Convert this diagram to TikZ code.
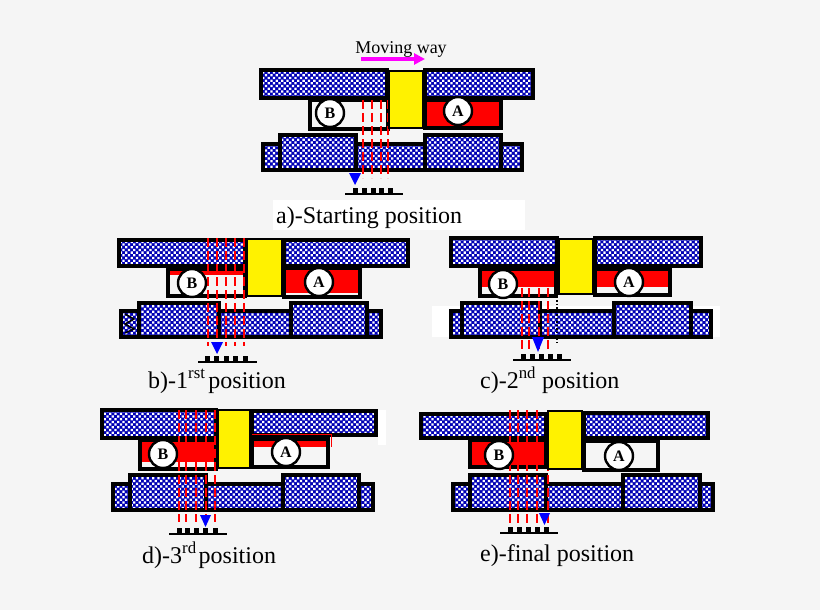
\documentclass[tikz,border=0pt]{standalone}
\usepackage{fontspec}
\setmainfont{Liberation Serif}
\usetikzlibrary{patterns.meta,arrows.meta}
\definecolor{paper}{HTML}{F5F5F5}
\definecolor{hatchblue}{HTML}{0000B4}
\definecolor{waypink}{RGB}{255,0,255}
\tikzset{
  block/.style={draw=black,line width=4pt,preaction={fill=hatchblue},preaction={pattern={Dots[distance=3.8pt,angle=45,radius=1.6pt]},pattern color=white}},
  slot/.style={draw=black,line width=4pt},
  slider/.style={draw=black,line width=1.5pt,fill=yellow},
  charge/.style={fill=red},
  beam/.style={draw=red,line width=2.2pt,dash pattern=on 9pt off 4pt},
  drop/.style={fill=blue},
  disc/.style={circle,draw=black,line width=2.4pt,fill=white,minimum size=28pt,inner sep=0pt,font=\fontsize{16}{16}\selectfont\bfseries},
  label/.style={anchor=base west,inner sep=0pt,font=\fontsize{24}{24}\selectfont},
}
\begin{document}
\begin{tikzpicture}[x=1pt,y=-1pt]
    \useasboundingbox[fill=paper] (0,0) rectangle (820,610);
    % a) starting position
    \fill[white] (273,200) rectangle (525,230);
    \node[anchor=base,inner sep=0pt,font=\fontsize{18}{18}\selectfont] (moving) at (401,54) {Moving way};
    \coordinate (way start) at (361,59);
    \coordinate (way end) at (425,59);
    \draw[-{Triangle[length=11pt,width=11pt]},waypink,line width=3.5pt] (way start) -- (way end);
    \draw[slot] (310,100) rectangle (388,129);
    \fill[charge] (425,100) rectangle (501,128);
    \draw[slot] (425,100) rectangle (501,128);
    \draw[block] (263,144) rectangle (522,170);
    \draw[block] (280,135) rectangle (356,170);
    \draw[block] (425,135) rectangle (501,170);
    \draw[block] (261,70) rectangle (387,98);
    \draw[block] (425,70) rectangle (533,98);
    \foreach \x in {363,372,381,388}
      \draw[beam] (\x,100) -- (\x,178);
    \draw[slider] (389,71) rectangle (423,128);
    \node[disc] (B a) at (330,113) {B};
    \node[disc] (A a) at (458,111) {A};
    \fill[drop] (349,173) -- (361,173) -- (355,185) -- cycle;
    \draw[line width=1.5pt] (345,194) -- (403,194);
    \foreach \x in {353,362,371,379,388}
      \fill (\x,188) rectangle ++(5,6);
    \node[label] (cap a) at (276,223) {a)-Starting position};
    % b) 1rst position
    \fill[charge] (168,269) rectangle (245,275);
    \draw[slot] (168,269) rectangle (245,296);
    \fill[charge] (284,268) rectangle (360,293);
    \draw[slot] (284,268) rectangle (360,297);
    \draw[block] (121,311) rectangle (381,337);
    \draw[block] (139,303) rectangle (219,337);
    \draw[block] (291,303) rectangle (367,337);
    \draw[block] (119,240) rectangle (245,266);
    \draw[block] (284,240) rectangle (408,266);
    \draw[line width=1.5pt] (125,314) -- (134,319) -- (125,324) -- (134,329) -- (125,333);
    \foreach \x in {208,217,226,235,244}
      \draw[beam] (\x,238) -- (\x,346);
    \draw[slider] (247,239) rectangle (282,296);
    \node[disc] (B b) at (192,283) {B};
    \node[disc] (A b) at (319,282) {A};
    \fill[drop] (211,342) -- (223,342) -- (217,354) -- cycle;
    \draw[line width=1.5pt] (198,362) -- (257,362);
    \foreach \x in {205,214,224,233,243}
      \fill (\x,356) rectangle ++(5,6);
    \node[label] (cap b) at (148,388) {b)-1\textsuperscript{rst}\hspace{-3pt} position};
    % c) 2nd position
    \fill[white] (432,306) rectangle (720,337);
    \fill[charge] (480,269) rectangle (556,287);
    \draw[slot] (480,269) rectangle (556,296);
    \fill[charge] (595,269) rectangle (670,287);
    \draw[slot] (595,269) rectangle (670,295);
    \draw[block] (451,311) rectangle (711,337);
    \draw[block] (462,303) rectangle (540,337);
    \draw[block] (614,303) rectangle (691,337);
    \draw[block] (451,238) rectangle (557,266);
    \draw[block] (595,238) rectangle (701,266);
    \foreach \x in {522,529,539,548}
      \draw[beam] (\x,288) -- (\x,350);
    \draw[line width=1.5pt,dotted] (557,300) -- (557,343);
    \draw[slider] (559,239) rectangle (593,294);
    \node[disc] (B c) at (503,284) {B};
    \node[disc] (A c) at (629,282) {A};
    \fill[drop] (532,337) -- (544,337) -- (538,352) -- cycle;
    \draw[line width=1.5pt] (513,360) -- (571,360);
    \foreach \x in {521,530,539,548,557}
      \fill (\x,354) rectangle ++(5,6);
    \node[label] (cap c) at (480,388) {c)-2\textsuperscript{nd} position};
    % d) 3rd position
    \fill[white] (378,410) rectangle (386,445);
    \fill[charge] (140,440) rectangle (216,462);
    \draw[slot] (140,440) rectangle (216,469);
    \fill[charge] (252,439) rectangle (328,447);
    \draw[slot] (252,439) rectangle (328,467);
    \draw[block] (113,484) rectangle (373,510);
    \draw[block] (130,475) rectangle (206,510);
    \draw[block] (283,475) rectangle (359,510);
    \draw[block] (102,410) rectangle (216,438);
    \draw[block] (252,411) rectangle (376,435);
    \draw[red,line width=1pt] (252,434.5) -- (331,434.5) -- (331,447);
    \foreach \x in {179,186,196,206,215}
      \draw[beam] (\x,410) -- (\x,522);
    \draw[slider] (218,410) rectangle (250,468);
    \node[disc] (B d) at (163,454) {B};
    \node[disc] (A d) at (286,452) {A};
    \fill[drop] (200,515) -- (211,515) -- (205.5,527) -- cycle;
    \draw[line width=1.5pt] (169,534) -- (227,534);
    \foreach \x in {177,185,194,203,213}
      \fill (\x,528) rectangle ++(5,6);
    \node[label] (cap d) at (142,563) {d)-3\textsuperscript{rd}\hspace{-4pt} position};
    % e) final position
    \fill[charge] (470,440) rectangle (546,467);
    \draw[slot] (470,440) rectangle (546,467);
    \draw[slot] (584,441) rectangle (658,470);
    \draw[block] (453,484) rectangle (713,510);
    \draw[block] (470,475) rectangle (546,510);
    \draw[block] (623,475) rectangle (700,510);
    \draw[block] (421,414) rectangle (546,438);
    \draw[block] (584,413) rectangle (708,438);
    \foreach \x in {510,518,527,537,548}
      \draw[beam] (\x,410) -- (\x,524);
    \draw[slider] (548,411) rectangle (582,469);
    \node[disc] (B e) at (499,455) {B};
    \node[disc] (A e) at (619,456) {A};
    \fill[drop] (539,513) -- (550,513) -- (544.5,525) -- cycle;
    \draw[line width=1.5pt] (500,533) -- (558,533);
    \foreach \x in {508,517,526,535,544}
      \fill (\x,527) rectangle ++(5,6);
    \node[label] (cap e) at (480,561) {e)-final position};
\end{tikzpicture}
\end{document}
